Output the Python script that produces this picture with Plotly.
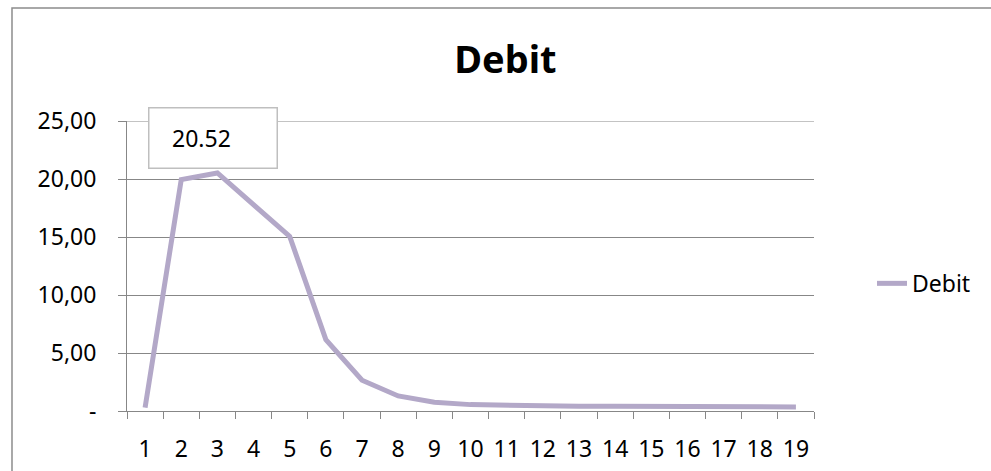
import plotly.graph_objects as go

# Flow rate per interval
intervals = list(range(1, 20))
debit = [0.30, 19.95, 20.52, 17.80, 15.05, 6.15, 2.65, 1.30, 0.75, 0.55,
         0.48, 0.44, 0.42, 0.40, 0.38, 0.37, 0.36, 0.35, 0.35]

y_tickvals = [0, 5, 10, 15, 20, 25]
y_ticktext = ["-", "5,00", "10,00", "15,00", "20,00", "25,00"]

peak_label = "20.52"
peak_x = 3
peak_y = 20.52

LINE_COLOR = "#B3A8C8"
GRID_COLOR = "#878787"
FONT = "Noto Sans"

fig = go.Figure()
fig.add_trace(go.Scatter(
    x=intervals, y=debit, mode="lines", name="Debit",
    line=dict(color=LINE_COLOR, width=5),
    hoverinfo="skip",
))

fig.update_layout(
    width=991, height=471,
    margin=dict(l=127, r=177, t=121, b=60),
    paper_bgcolor="white", plot_bgcolor="white",
    font=dict(family=FONT, size=23, color="black"),
    title=dict(text="<b>Debit</b>", x=0.51, xanchor="center",
               y=0.874, yanchor="middle",
               font=dict(family=FONT, size=38, color="black")),
    showlegend=True,
    legend=dict(x=1.0844, y=0.44, xanchor="left", yanchor="middle",
                font=dict(size=23), bgcolor="rgba(0,0,0,0)"),
    xaxis=dict(
        range=[0.5, 19.5], tickmode="array", tickvals=intervals,
        ticktext=[str(i) for i in intervals], ticks="", showgrid=False,
        zeroline=False, showline=True, linecolor=GRID_COLOR, linewidth=1,
        ticklabelstandoff=17, automargin=False,
        minor=dict(tickmode="array", tickvals=[i + 0.5 for i in range(20)],
                   ticks="outside", ticklen=7, tickcolor=GRID_COLOR,
                   tickwidth=1, showgrid=False),
    ),
    yaxis=dict(
        range=[0, 25], tickmode="array", tickvals=y_tickvals,
        ticktext=y_ticktext, ticks="outside", ticklen=8,
        tickcolor=GRID_COLOR, showgrid=True, gridcolor=GRID_COLOR,
        gridwidth=1, zeroline=False, showline=True, linecolor=GRID_COLOR,
        linewidth=1, ticklabelstandoff=17, automargin=False,
    ),
)

# Top gridline at the upper end of the value axis
fig.add_shape(type="line", xref="paper", yref="y", x0=0, x1=1,
              y0=y_tickvals[-1], y1=y_tickvals[-1],
              line=dict(color=GRID_COLOR, width=1), layer="below")

# Data label box for the peak value
fig.add_annotation(x=peak_x, y=peak_y, xref="x", yref="y",
                   text="", showarrow=False, width=127, height=59,
                   borderpad=0, borderwidth=1.5, bordercolor="#BFBFBF",
                   bgcolor="white", xanchor="center", yanchor="middle",
                   xshift=-4, yshift=35)
fig.add_annotation(x=peak_x, y=peak_y, xref="x", yref="y",
                   text=peak_label, showarrow=False,
                   xanchor="center", yanchor="middle",
                   xshift=-16, yshift=35,
                   font=dict(family=FONT, size=23, color="black"))

# Chart area border (left and top edges visible)
fig.add_shape(type="rect", xref="paper", yref="paper",
              x0=-0.1674, x1=1.5, y0=-0.5, y1=1.3897,
              line=dict(color="#8C8C8C", width=1.5), layer="below")

fig.write_html("out.html")
